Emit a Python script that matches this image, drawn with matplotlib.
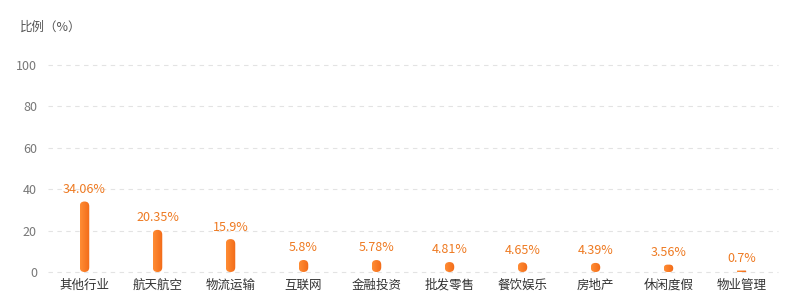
import numpy as np
import matplotlib
matplotlib.use("Agg")
import matplotlib.pyplot as plt
from matplotlib.patches import FancyBboxPatch
from matplotlib.transforms import IdentityTransform
from matplotlib.colors import LinearSegmentedColormap

plt.rcParams['font.family'] = ['Noto Sans CJK SC', 'DejaVu Sans']

categories = ["其他行业", "航天航空", "物流运输", "互联网", "金融投资",
              "批发零售", "餐饮娱乐", "房地产", "休闲度假", "物业管理"]
values = [34.06, 20.35, 15.9, 5.8, 5.78, 4.81, 4.65, 4.39, 3.56, 0.7]
value_labels = ["34.06%", "20.35%", "15.9%", "5.8%", "5.78%",
                "4.81%", "4.65%", "4.39%", "3.56%", "0.7%"]
yticks = [0, 20, 40, 60, 80, 100]

W, H, DPI = 794, 307, 100
fig = plt.figure(figsize=(W / DPI, H / DPI), dpi=DPI)
ax = fig.add_axes([48 / W, 35 / H, 730 / W, 207 / H])

x = np.arange(len(categories))
bar_w = 0.13
ax.set_xlim(-0.5, len(categories) - 0.5)
ax.set_ylim(0, 100)

# grid and axes styling
ax.set_yticks(yticks)
ax.set_yticklabels([str(t) for t in yticks], color="#777777", fontsize=9)
ax.set_xticks(x)
ax.set_xticklabels(categories, color="#333333", fontsize=9)
ax.tick_params(axis="both", length=0)
ax.tick_params(axis="y", pad=8)
ax.tick_params(axis="x", pad=5)
for s in ax.spines.values():
    s.set_visible(False)
for t in yticks:
    ax.axhline(t, color="#e3e3e3", lw=0.8, dashes=(4, 4), zorder=0, clip_on=False)

# horizontal orange gradient for the bars
cmap = LinearSegmentedColormap.from_list("bar_grad", ["#ff8d35", "#f26a17"])
grad = np.linspace(0, 1, 64).reshape(1, -1)

bars = ax.bar(x, values, width=bar_w, color="none", edgecolor="none")
fig.canvas.draw()
for rect, v, lab in zip(bars, values, value_labels):
    x0, y0 = rect.get_x(), rect.get_y()
    x1, y1 = x0 + rect.get_width(), y0 + rect.get_height()
    (px0, py0), (px1, py1) = ax.transData.transform([(x0, y0), (x1, y1)])
    pw, ph = px1 - px0, py1 - py0
    r = min(pw, ph) / 2.0
    clip = FancyBboxPatch((px0, py0), pw, ph,
                          boxstyle=f"round,pad=0,rounding_size={r}",
                          transform=IdentityTransform(),
                          facecolor="none", edgecolor="none")
    ax.add_patch(clip)
    im = ax.imshow(grad, cmap=cmap, aspect="auto",
                   extent=(x0, x1, y0, max(y1, y0 + 0.01)),
                   interpolation="bilinear", zorder=2)
    im.set_clip_path(clip)
    ax.annotate(lab, (rect.get_x() + rect.get_width() / 2, v),
                xytext=(0, 4), textcoords="offset points",
                ha="center", va="bottom", color="#ee7a22", fontsize=9)

ax.set_xlim(-0.5, len(categories) - 0.5)
ax.set_ylim(0, 100)

fig.text(20 / W, 1 - 27 / H, "比例（%）", color="#555555", fontsize=9,
         ha="left", va="center")

fig.savefig("out.png", dpi=DPI)
